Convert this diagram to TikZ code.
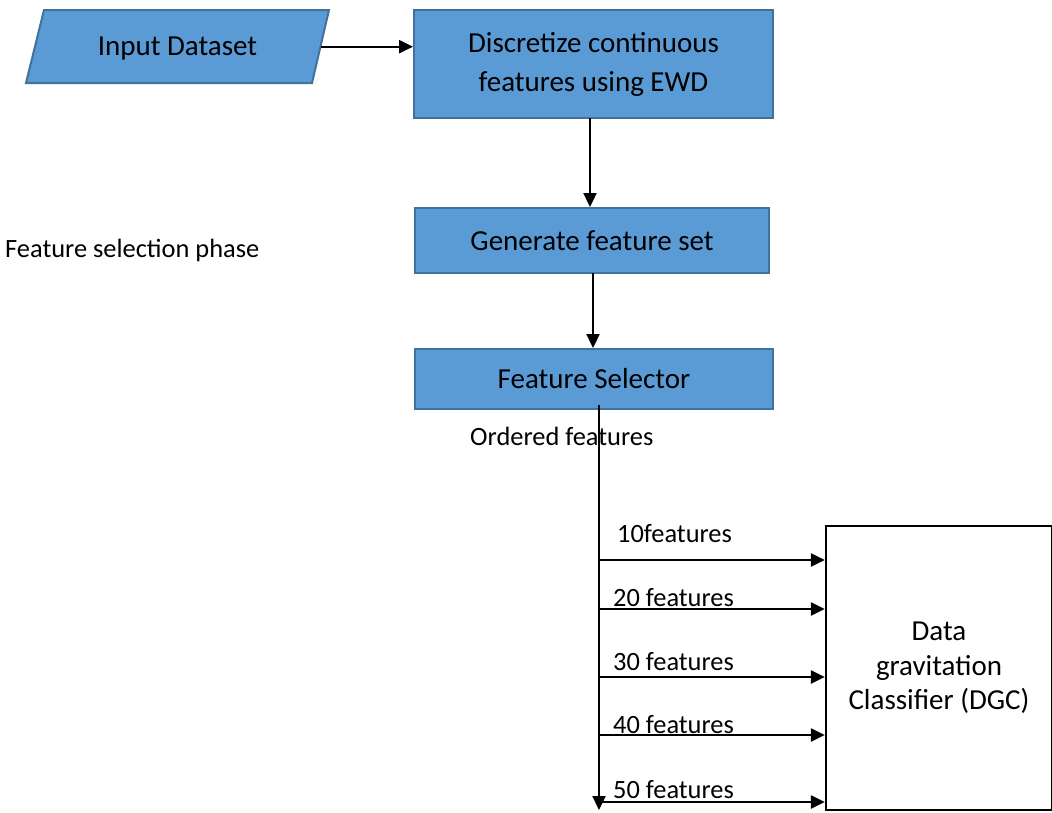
\documentclass[tikz,border=0pt]{standalone}
\usepackage{fontspec}
\setmainfont{Carlito}
\usetikzlibrary{arrows.meta}
\definecolor{boxfill}{HTML}{5B9BD5}
\definecolor{boxline}{HTML}{41719C}
\tikzset{
  bluebox/.style={draw=boxline, fill=boxfill, line width=2pt, inner sep=0pt, align=center,
    font=\fontsize{29}{39}\selectfont},
  lbl/.style={anchor=base west, inner sep=0pt, font=\fontsize{26.4}{32}\selectfont},
  arr/.style={line width=2.3pt, -{Triangle[length=14pt,width=13pt]}},
}
\begin{document}
\begin{tikzpicture}[x=1pt,y=-1pt]
\useasboundingbox (0,0) rectangle (1052,812);
% input parallelogram
\coordinate (p1) at (44,10);
\coordinate (p2) at (329,10);
\coordinate (p3) at (312,83);
\coordinate (p4) at (26,83);
\draw[draw=boxline, fill=boxfill, line width=2pt] (p1) -- (p2) -- (p3) -- (p4) -- cycle;
\node[inner sep=0pt, font=\fontsize{29}{39}\selectfont, anchor=base] (input) at (177.5,55) {Input Dataset};
\coordinate (inout) at (320.5,46.7);

\node[bluebox, minimum width=359pt, minimum height=108pt] (disc) at (593.5,64) {Discretize continuous\\features using EWD};
\node[bluebox, minimum width=354pt, minimum height=65pt] (gen) at (592,240.5) {Generate feature set};
\node[bluebox, minimum width=358pt, minimum height=60pt] (sel) at (594,379) {Feature Selector};

\draw[arr] (inout) -- (disc.west |- inout);
\draw[arr] (590,118) coordinate (d1) -- (gen.north -| d1);
\draw[arr] (593,273) coordinate (g1) -- (sel.north -| g1);

\node[lbl] (phase) at (5,257) {Feature selection phase};
\node[lbl] (ordered) at (470,445) {Ordered features};

\node[draw, line width=2.3pt, minimum width=226pt, minimum height=284pt, inner sep=0pt, align=center,
  font=\fontsize{29}{34.5}\selectfont] (dgc) at (939,668) {Data\\gravitation\\Classifier (DGC)};

\coordinate (t0) at (599,405);
\coordinate (t1) at (599,810);
\draw[arr] (t0) -- (t1);

\foreach \y/\n in {560/a,609/b,677/c,735/d,802/e}{
  \coordinate (s\n) at (599,\y);
  \draw[arr] (s\n) -- (dgc.west |- s\n);
}
\node[lbl] (l10) at (617,542) {10features};
\node[lbl] (l20) at (613,606) {20 features};
\node[lbl] (l30) at (613,670) {30 features};
\node[lbl] (l40) at (613,733) {40 features};
\node[lbl] (l50) at (613,798) {50 features};
\end{tikzpicture}
\end{document}
